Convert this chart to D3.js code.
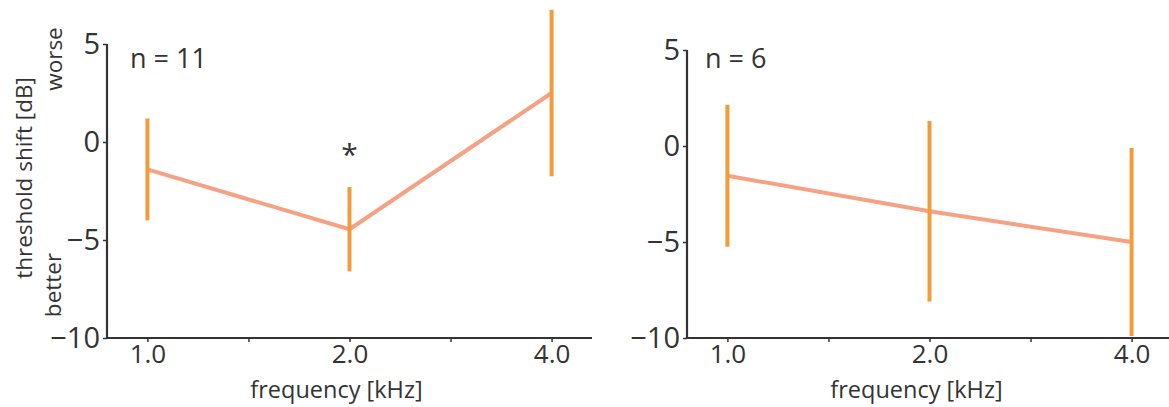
<!DOCTYPE html>
<html>
<head>
<meta charset="utf-8">
<script src="https://cdn.jsdelivr.net/npm/d3@7"></script>
<style>
  body { margin: 0; background: #fff; }
  svg text { font-family: "Open Sans", sans-serif; fill: #333; }
</style>
</head>
<body>
<div id="chart"></div>
<script>
// data
const freqLabels = ['1.0', '2.0', '4.0'];
const yTicks = [5, 0, -5, -10];
const leftMeans = [-1.4, -4.45, 2.5];
const leftErr = [2.6, 2.15, 4.25];
const rightMeans = [-1.55, -3.4, -5.0];
const rightErr = [3.7, 4.7, 4.9];
const panelN = ['n = 11', 'n = 6'];
const starIdx = 1; // significant point in left panel

const lineColor = '#f4a283';
const barColor = '#f39b3b';
const axisColor = '#333';

const svg = d3.select('#chart').append('svg')
  .attr('width', 1169).attr('height', 407);

function drawPanel(opts) {
  const x = d3.scaleLinear().domain([-0.2, 2.2]).range([opts.x0, opts.x1]);
  const y = d3.scaleLinear().domain([-10, 5]).range([338, opts.yTop]);
  const g = svg.append('g');

  // y axis
  const ya = g.append('g').attr('transform', 'translate(' + opts.x0 + ',0)')
    .call(d3.axisLeft(y).tickValues(yTicks).tickSize(4).tickPadding(3)
      .tickFormat(d => d < 0 ? '\u2212' + Math.abs(d) : d));
  // x axis
  const xa = g.append('g').attr('transform', 'translate(0,338)')
    .call(d3.axisBottom(x).tickValues([0, 1, 2]).tickSize(4).tickPadding(3)
      .tickFormat(i => freqLabels[i]));
  g.append('g').attr('transform', 'translate(0,338)')
    .call(d3.axisBottom(x).tickValues([0.5, 1.5]).tickSize(4).tickFormat(''))
    .select('.domain').remove();

  g.selectAll('.domain').attr('stroke', axisColor).attr('stroke-width', 2.2);
  g.selectAll('.tick line').attr('stroke', axisColor).attr('stroke-width', 1.5);
  ya.selectAll('.domain').attr('d', 'M0,' + opts.yTop + 'V338');
  xa.select('.domain').attr('d', 'M' + opts.x0 + ',0H' + opts.x1);
  ya.selectAll('.tick text').style('font-size', '29px').attr('fill', axisColor);
  xa.selectAll('.tick text').style('font-size', '26px').attr('fill', axisColor);

  // line
  const idx = [0, 1, 2];
  g.append('path')
    .datum(idx)
    .attr('fill', 'none')
    .attr('stroke', lineColor)
    .attr('stroke-width', 4)
    .attr('d', d3.line().x(i => x(i)).y(i => y(opts.means[i])));

  // error bars
  g.selectAll('.err').data(idx).enter().append('line')
    .attr('x1', i => x(i)).attr('x2', i => x(i))
    .attr('y1', i => y(opts.means[i] + opts.err[i]))
    .attr('y2', i => y(opts.means[i] - opts.err[i]))
    .attr('stroke', barColor).attr('stroke-width', 4);

  g.append('text').attr('x', opts.x0 + opts.nOffset).attr('y', 68)
    .style('font-size', '27px').text(opts.n);

  g.append('text').attr('x', x(1) - 13).attr('y', 398)
    .attr('text-anchor', 'middle').style('font-size', '23.5px')
    .text('frequency [kHz]');
  return {x: x, y: y, g: g};
}

const left = drawPanel({x0: 107, x1: 592, yTop: 44, means: leftMeans, err: leftErr, n: panelN[0], nOffset: 23});
drawPanel({x0: 687, x1: 1172, yTop: 50, means: rightMeans, err: rightErr, n: panelN[1], nOffset: 18});

// significance star
left.g.append('text').attr('x', left.x(starIdx)).attr('y', 165)
  .attr('text-anchor', 'middle').style('font-size', '30px').text('*');

// y labels
svg.append('text').attr('transform', 'translate(32,178) rotate(-90)')
  .attr('text-anchor', 'middle').style('font-size', '22.5px').text('threshold shift [dB]');
svg.append('text').attr('transform', 'translate(62,59) rotate(-90)')
  .attr('text-anchor', 'middle').style('font-size', '22.5px').text('worse');
svg.append('text').attr('transform', 'translate(61,285) rotate(-90)')
  .attr('text-anchor', 'middle').style('font-size', '22.5px').text('better');
</script>
</body>
</html>
